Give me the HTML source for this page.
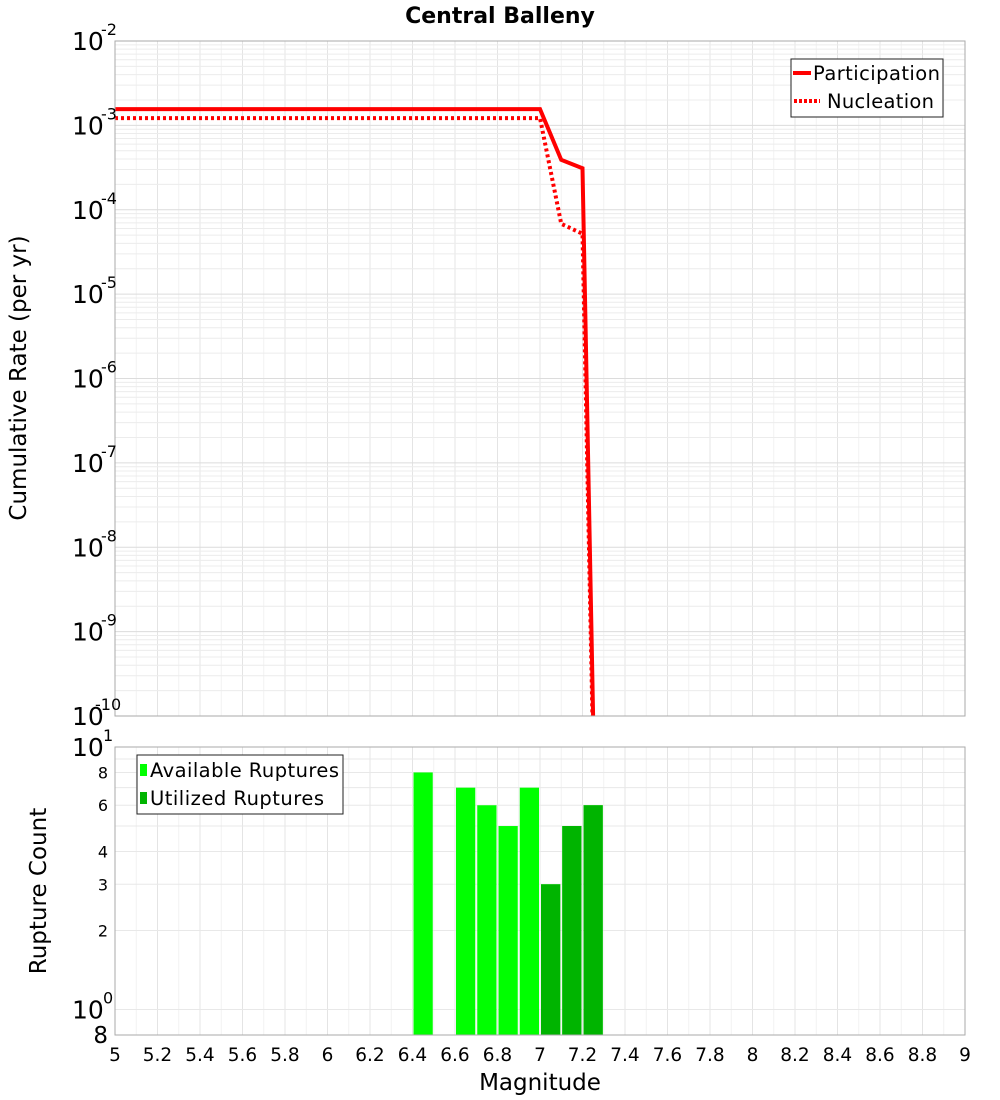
<!DOCTYPE html>
<html><head><meta charset="utf-8">
<style>
html,body{margin:0;padding:0;background:#fff;width:1000px;height:1100px;overflow:hidden;}
svg{display:block;}
svg text{font-family:"DejaVu Sans","Liberation Sans",sans-serif;}
</style></head>
<body>
<svg id="chart" width="1000" height="1100" xmlns="http://www.w3.org/2000/svg">
<text x="500" y="23" text-anchor="middle" font-size="22" font-weight="bold">Central Balleny</text>
<g id="top-grid"></g>
<g id="bot-grid"></g>
<g id="top-series"></g>
<g id="bot-series"></g>
<rect x="115" y="41" width="850" height="675" fill="none" stroke="#aaa"/>
<rect x="115" y="747" width="850" height="288" fill="none" stroke="#aaa"/>
<g id="top-ylabels"></g>
<g id="bot-ylabels"></g>
<g id="xlabels"></g>
<text transform="translate(26,378) rotate(-90)" text-anchor="middle" font-size="23">Cumulative Rate (per yr)</text>
<text transform="translate(46,891) rotate(-90)" text-anchor="middle" font-size="23">Rupture Count</text>
<text x="540" y="1090" text-anchor="middle" font-size="23">Magnitude</text>
<g>
<rect x="791" y="59" width="152" height="58" fill="#fff" stroke="#222"/>
<line x1="793" y1="73" x2="811" y2="73" stroke="#f00" stroke-width="4"/>
<text x="813" y="80" font-size="19.5" textLength="127">Participation</text>
<line x1="794" y1="101" x2="820" y2="101" stroke="#f00" stroke-width="4" stroke-dasharray="3,2"/>
<text x="827" y="108" font-size="19.5" textLength="107">Nucleation</text>
</g>
<g>
<rect x="137" y="755" width="206" height="59" fill="#fff" stroke="#222"/>
<rect x="140" y="764" width="7" height="12" fill="#00ff00"/>
<text x="150" y="777" font-size="19.5" textLength="189">Available Ruptures</text>
<rect x="140" y="792" width="7" height="12" fill="#00b400"/>
<text x="150" y="805" font-size="19.5" textLength="174">Utilized Ruptures</text>
</g>
</svg>
<script>
const mags = [5.0,5.1,5.2,5.3,5.4,5.5,5.6,5.7,5.8,5.9,6.0,6.1,6.2,6.3,6.4,6.5,6.6,6.7,6.8,6.9,7.0,7.1,7.2,7.3];
const participation = [1.56e-3,1.56e-3,1.56e-3,1.56e-3,1.56e-3,1.56e-3,1.56e-3,1.56e-3,1.56e-3,1.56e-3,1.56e-3,1.56e-3,1.56e-3,1.56e-3,1.56e-3,1.56e-3,1.56e-3,1.56e-3,1.56e-3,1.56e-3,1.56e-3,3.9e-4,3.1e-4,3e-17];
const nucleation = [1.22e-3,1.22e-3,1.22e-3,1.22e-3,1.22e-3,1.22e-3,1.22e-3,1.22e-3,1.22e-3,1.22e-3,1.22e-3,1.22e-3,1.22e-3,1.22e-3,1.22e-3,1.22e-3,1.22e-3,1.22e-3,1.22e-3,1.22e-3,1.22e-3,6.8e-5,5.2e-5,3e-17];
const binStarts = [6.4,6.5,6.6,6.7,6.8,6.9,7.0,7.1,7.2];
const available = [8,0,7,6,5,7,3,5,6];
const utilized = [0,0,0,0,0,0,3,5,6];
const xTicks = [5,5.2,5.4,5.6,5.8,6,6.2,6.4,6.6,6.8,7,7.2,7.4,7.6,7.8,8,8.2,8.4,8.6,8.8,9];
const topExps = [-2,-3,-4,-5,-6,-7,-8,-9,-10];
const botSmallTicks = [8,6,4,3,2];

const NS='http://www.w3.org/2000/svg';
function X(m){return 115+(m-5)*212.5;}
function YT(v){return 41+(-2-Math.log10(v))*84.375;}
function YB(v){return 747+(1-Math.log10(v))*(288/(1-Math.log10(0.8)));}
function mk(tag,attrs,parent){const e=document.createElementNS(NS,tag);for(const k in attrs)e.setAttribute(k,attrs[k]);parent.appendChild(e);return e;}

const tg=document.getElementById('top-grid'), bg=document.getElementById('bot-grid');
for(let i=0;i<=40;i++){const m=5+i*0.1;const c=i%2==0?'#e4e4e4':'#f2f2f2';
 const l1=mk('line',{x1:X(m),x2:X(m),y1:41,y2:716,stroke:c},tg);
 
 
 const l2=mk('line',{x1:X(m),x2:X(m),y1:747,y2:1035,stroke:c},bg);
 
 }
for(let e=-10;e<-2;e++){for(let k=1;k<10;k++){const v=k*Math.pow(10,e);const y=YT(v);
 const l=mk('line',{x1:115,x2:965,y1:y,y2:y,stroke:k==1?'#dcdcdc':'#ececec'},tg);
 
 }}
[1,2,3,4,5,6,7,8,9].forEach(v=>{const y=YB(v);
 const l=mk('line',{x1:115,x2:965,y1:y,y2:y,stroke:'#e8e8e8'},bg);
 
 });

const ts=document.getElementById('top-series');
const cp=mk('clipPath',{id:'clipTop'},ts);mk('rect',{x:115,y:41,width:850,height:675},cp);
function pts(arr){return mags.map((m,i)=>X(m)+','+YT(arr[i])).join(' ');}
const pl=mk('polyline',{points:pts(participation),fill:'none',stroke:'#f00','stroke-width':4,'clip-path':'url(#clipTop)'},ts);


const nl=mk('polyline',{points:pts(nucleation),fill:'none',stroke:'#f00','stroke-width':4,'stroke-dasharray':'3,3','clip-path':'url(#clipTop)'},ts);



const bs=document.getElementById('bot-series');
binStarts.forEach((m,i)=>{
 if(available[i]>0){const y=YB(available[i]);
  const r=mk('rect',{x:X(m)+1,y:y,width:X(m+0.1)-X(m)-2,height:1035-y,fill:'#00ff00'},bs);
  
  }
 if(utilized[i]>0){const y=YB(utilized[i]);
  const r=mk('rect',{x:X(m)+1,y:y,width:X(m+0.1)-X(m)-2,height:1035-y,fill:'#00b400'},bs);
  
  }
});

const xl=document.getElementById('xlabels');
xTicks.forEach(m=>{const t=mk('text',{x:X(m),y:1061,'text-anchor':'middle','font-size':18.5},xl);t.textContent=String(m);
 
 });
const tyl=document.getElementById('top-ylabels');
topExps.forEach(e=>{const y=YT(Math.pow(10,e));
 const t=mk('text',{x:72,y:y+9,'font-size':25},tyl);t.textContent='10';
 
 
 const s=mk('text',{x:e<=-10?95:101,y:y-6,'font-size':16},tyl);s.textContent=String(e);
 
 });
const byl=document.getElementById('bot-ylabels');
[[1,'1'],[0,'0']].forEach(([e,s])=>{const y=YB(Math.pow(10,e));
 const t=mk('text',{x:72,y:y+9,'font-size':25},byl);t.textContent='10';
 
 
 const u=mk('text',{x:103,y:y-6,'font-size':16},byl);u.textContent=s;
 
 });
botSmallTicks.forEach(v=>{const y=YB(v);
 const t=mk('text',{x:108,y:y+6,'text-anchor':'end','font-size':16},byl);t.textContent=String(v);
 
 });
const b8=mk('text',{x:108,y:1043,'text-anchor':'end','font-size':23},byl);b8.textContent='8';


</script>
</body></html>
